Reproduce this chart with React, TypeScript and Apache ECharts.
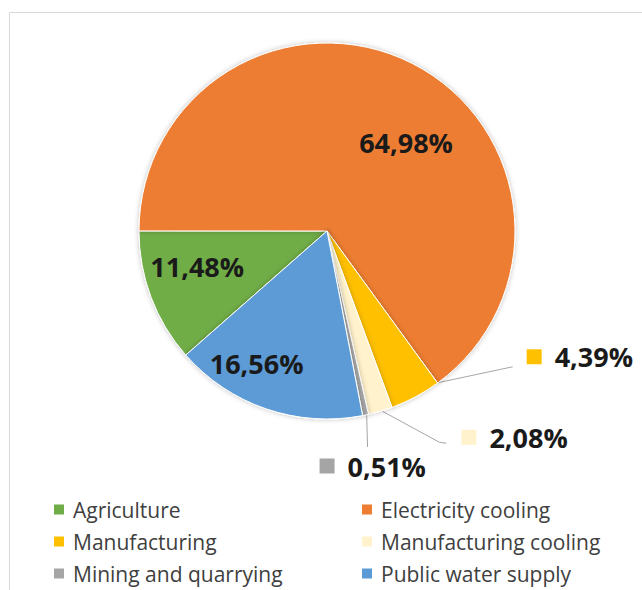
import React, { useEffect, useRef } from "react";
import * as echarts from "echarts";

const categories = [
  "Agriculture",
  "Electricity cooling",
  "Manufacturing",
  "Manufacturing cooling",
  "Mining and quarrying",
  "Public water supply",
];
const values = [11.48, 64.98, 4.39, 2.08, 0.51, 16.56];
const colors = ["#70AD47", "#ED7D31", "#FFC000", "#FFF2CC", "#A5A5A5", "#5B9BD5"];
const legendLeft = ["Agriculture", "Manufacturing", "Mining and quarrying"];
const legendRight = ["Electricity cooling", "Manufacturing cooling", "Public water supply"];

// label placement styles (offsets relative to library-computed anchors)
const placement: any[] = [
  { inside: true, dx: -39, dy: 1 },
  { inside: true, dx: 35, dy: -2 },
  { inside: false, start: [22, -14], mid: [97, -30], end: [97, -30], lab: [14, -10] },
  { inside: false, start: [2, 0], mid: [59, 31], end: [66, 32], lab: [15, -6] },
  { inside: false, start: [1, -4], mid: [2, 32], end: [2, 32], lab: [-48, 19] },
  { inside: true, dx: -39, dy: 41 },
];

const fmt = (v: number) => v.toFixed(2).replace(".", ",") + "%";

export default function App() {
  const ref = useRef<HTMLDivElement>(null);
  useEffect(() => {
    if (!ref.current) return;
    const chart = echarts.init(ref.current, undefined, { renderer: "svg" });
    const data = categories.map((name, i) => {
      const p = placement[i];
      const item: any = { name, value: values[i], itemStyle: { color: colors[i] } };
      if (!p.inside) {
        item.label = {
          position: "outside",
          formatter: "{m| }{t|" + fmt(values[i]) + "}",
          rich: {
            m: { width: 15, height: 15, backgroundColor: colors[i] },
            t: {
              fontSize: 27,
              fontWeight: "bold",
              color: "#1a1a1a",
              fontFamily: "Open Sans",
              padding: [0, 0, 0, 13],
            },
          },
        };
        item.labelLine = { show: true, lineStyle: { color: "#a6a6a6", width: 1 } };
      }
      return item;
    });
    const legendText = {
      fontSize: 21,
      color: "#404040",
      fontFamily: "Open Sans",
      lineHeight: 20,
      padding: [0, 0, 0, 3],
    };
    const legendBase = {
      orient: "vertical",
      top: 499,
      height: 90,
      padding: 0,
      itemWidth: 12,
      itemHeight: 12,
      itemGap: 11,
      icon: "rect",
      textStyle: legendText,
      selectedMode: false,
    };
    chart.setOption({
      animation: false,
      backgroundColor: "#ffffff",
      graphic: [
        {
          type: "rect",
          shape: { x: 9.5, y: 12.5, width: 640, height: 600 },
          style: { fill: "none", stroke: "#d9d9d9", lineWidth: 1 },
          silent: true,
        },
      ],
      legend: [
        { ...legendBase, data: legendLeft, left: 52 },
        { ...legendBase, data: legendRight, left: 360 },
      ],
      series: [
        {
          type: "pie",
          center: [327, 231],
          radius: [0, 188],
          startAngle: 221.3,
          clockwise: true,
          avoidLabelOverlap: false,
          data,
          itemStyle: {
            borderColor: "#ffffff",
            borderWidth: 1,
            shadowBlur: 5,
            shadowColor: "rgba(0,0,0,0.25)",
          },
          label: {
            show: true,
            position: "inside",
            formatter: (p: any) => fmt(p.value),
            fontSize: 27,
            fontWeight: "bold",
            color: "#1a1a1a",
            fontFamily: "Open Sans",
          },
          labelLine: { show: false },
          labelLayout: (params: any) => {
            const p = placement[params.dataIndex];
            if (p.inside) return { dx: p.dx, dy: p.dy };
            const pts = params.labelLinePoints;
            if (!pts) return {};
            const p0 = pts[0];
            const start = [p0[0] + p.start[0], p0[1] + p.start[1]];
            const mid = [p0[0] + p.mid[0], p0[1] + p.mid[1]];
            const end = [p0[0] + p.end[0], p0[1] + p.end[1]];
            return {
              x: end[0] + p.lab[0],
              y: end[1] + p.lab[1],
              align: "left",
              verticalAlign: "middle",
              labelLinePoints: [start, mid, end],
            };
          },
          emphasis: { disabled: true },
        },
      ],
    });
    return () => chart.dispose();
  }, []);
  return (
    <div
      ref={ref}
      style={{ position: "fixed", left: 0, top: 0, width: 642, height: 590 }}
    />
  );
}
